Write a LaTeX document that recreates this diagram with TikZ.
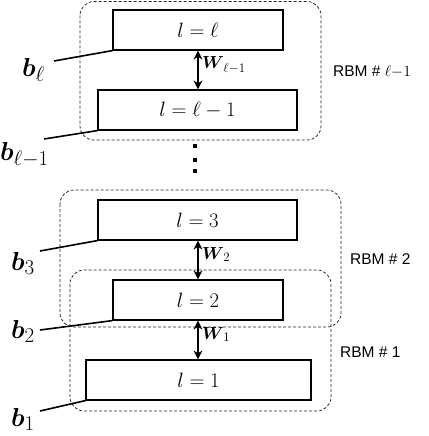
\RequirePackage{fix-cm}
\documentclass[tikz,border=0pt]{standalone}
\usepackage{amsmath,bm}
\usepackage{fontspec}
\newfontfamily\rbmfont{Liberation Sans}
\DeclareMathSizes{17.5}{17.5}{13}{10}
\DeclareMathSizes{26}{26}{21}{17}
\usetikzlibrary{arrows.meta}
\tikzset{
  layer/.style={draw,line width=1.2pt,minimum height=40pt,inner sep=0pt,font=\huge},
  rbm/.style={draw=black!85,line width=0.75pt,dash pattern=on 3pt off 2pt,rounded corners=14pt},
  wt/.style={line width=2pt,{Stealth[length=9pt,width=9pt]}-{Stealth[length=9pt,width=9pt]}},
  bias/.style={line width=1.6pt},
  blab/.style={anchor=base west,inner sep=0pt,font=\fontsize{26}{30}\selectfont},
  wlab/.style={anchor=base west,inner sep=0pt,yshift=1pt,font=\fontsize{17.5}{20}\selectfont},
  rlab/.style={anchor=base west,inner sep=0pt,font=\rbmfont\fontsize{15.5}{18}\selectfont},
}
\begin{document}
\begin{tikzpicture}[x=1pt,y=-1pt]
\useasboundingbox (0,0) rectangle (428,436);
\draw[rbm] (80,1.5) rectangle (321,140);
\draw[rbm] (60,190) rectangle (341,327);
\draw[rbm] (70,270) rectangle (331,411);
\node[layer,minimum width=170pt] (lL) at (198,30) {$l=\ell$};
\node[layer,minimum width=199pt] (lLm) at (197.5,110) {$l=\ell-1$};
\node[layer,minimum width=199pt] (l3) at (197.5,220) {$l=3$};
\node[layer,minimum width=170pt] (l2) at (198,300) {$l=2$};
\node[layer,minimum width=225pt] (l1) at (198.5,380) {$l=1$};
\draw[wt] (lL.south) -- (lL.south |- lLm.north) node[midway,wlab,xshift=3pt] (wL) {$\bm{W}_{\,\ell-1}$};
\draw[wt] (l2.north |- l3.south) -- (l2.north) node[midway,wlab,xshift=3pt] (w2) {$\bm{W}_{\,2}$};
\draw[wt] (l2.south) -- (l2.south |- l1.north) node[midway,wlab,xshift=3pt] (w1) {$\bm{W}_{\,1}$};
\foreach \y in {146,159.5,171} \fill (193,\y-2) rectangle (197,\y+2);
\node[blab] (bL) at (22,76) {$\bm{b}_{\ell}$};
\node[blab] (bLm) at (0,160) {$\bm{b}_{\ell-1}$};
\node[blab] (b3) at (11,270) {$\bm{b}_{3}$};
\node[blab] (b2) at (11,338) {$\bm{b}_{2}$};
\node[blab] (b1) at (11,426) {$\bm{b}_{1}$};
\coordinate (bLe) at (54,61);
\coordinate (bLme) at (44,139);
\coordinate (b3e) at (40,251);
\coordinate (b2e) at (40,330);
\coordinate (b1e) at (40,411);
\draw[bias] (lL.south west) -- (bLe);
\draw[bias] (lLm.south west) -- (bLme);
\draw[bias] (l3.south west) -- (b3e);
\draw[bias] (l2.south west) -- (b2e);
\draw[bias] (l1.south west) -- (b1e);
\node[rlab] (rL) at (333,77) {RBM \# $\ell{-}1$};
\node[rlab] (r2) at (350,264) {RBM \# 2};
\node[rlab] (r1) at (340,357) {RBM \# 1};
\end{tikzpicture}
\end{document}
